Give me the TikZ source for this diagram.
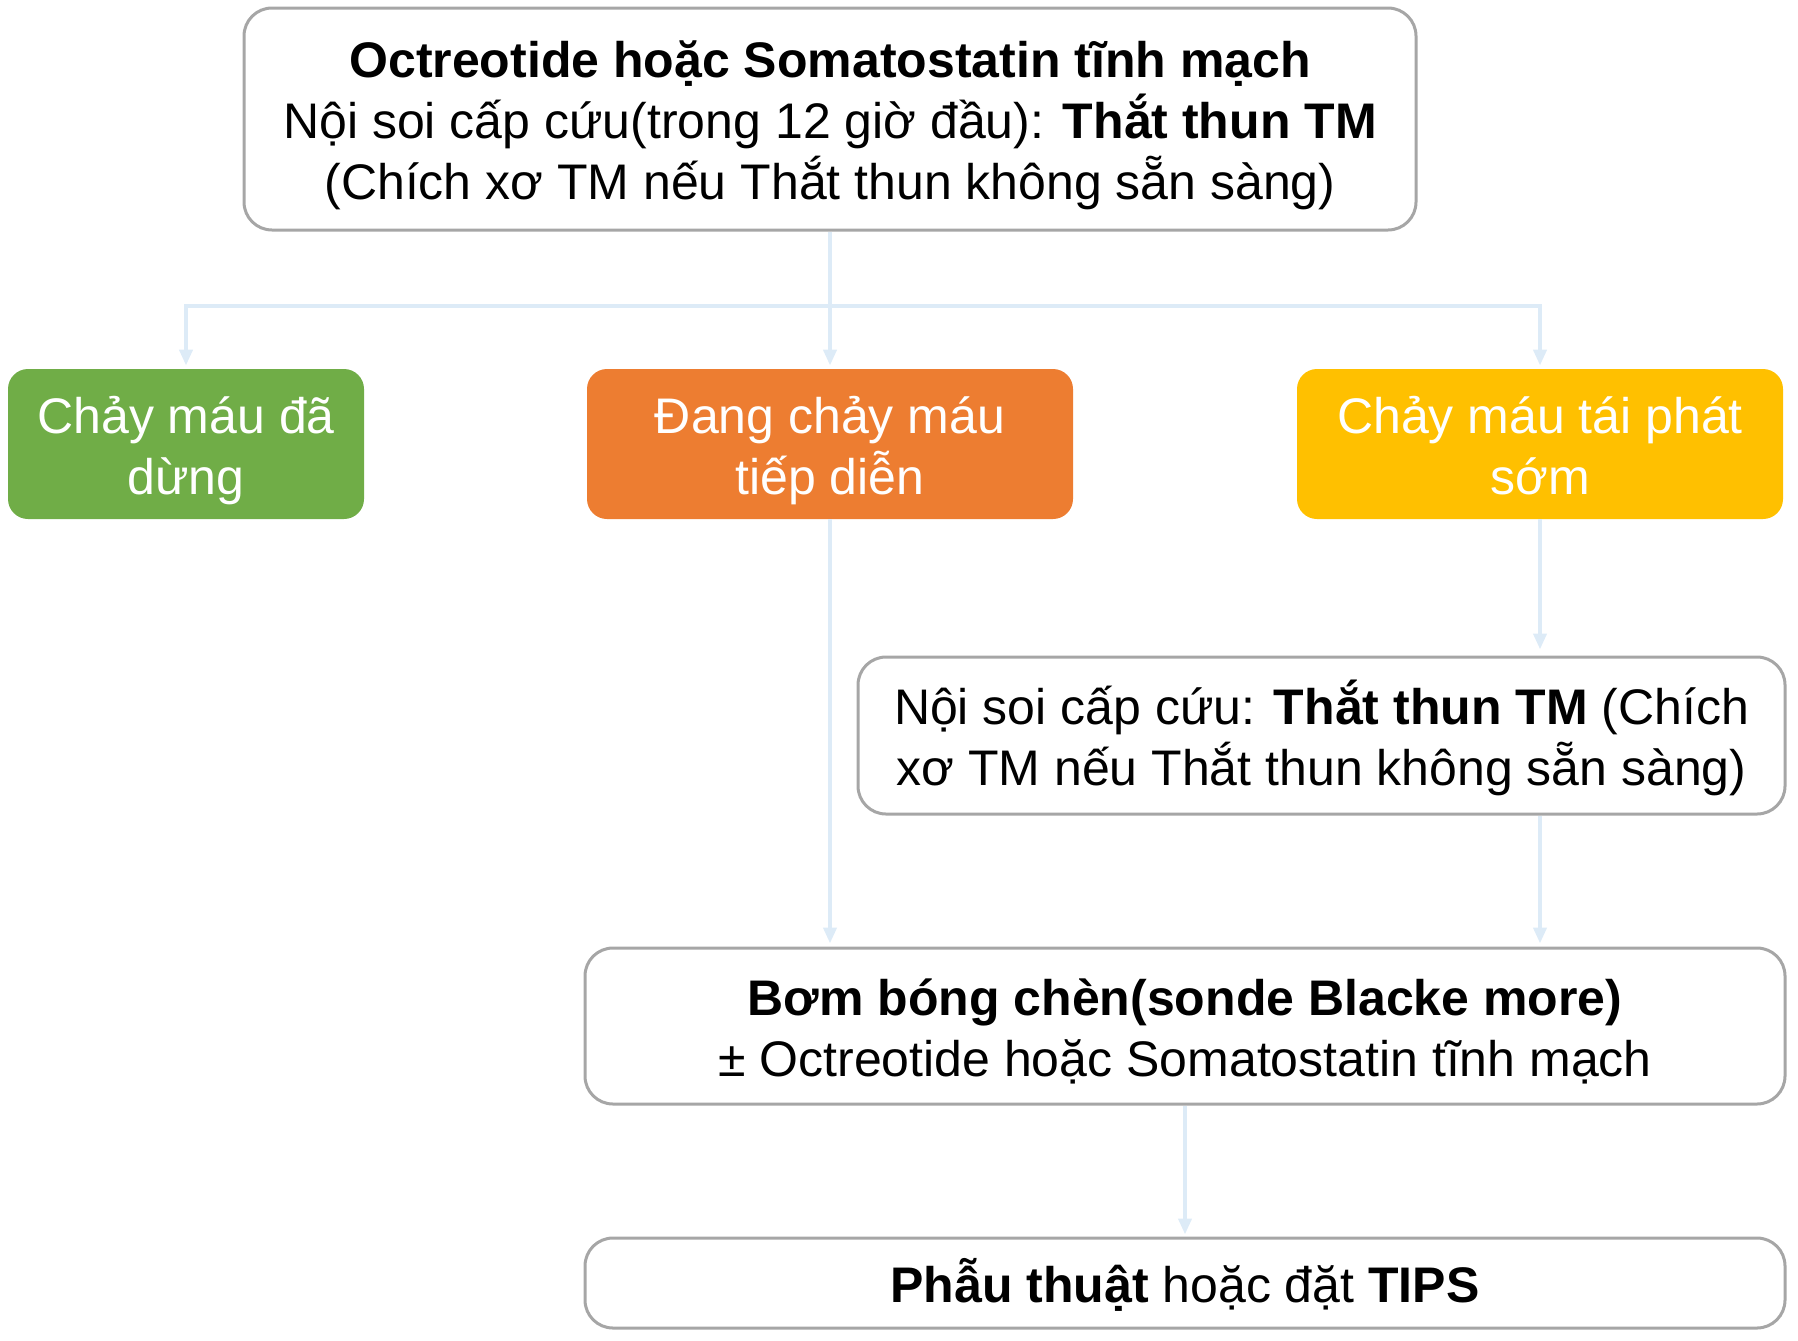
\documentclass[tikz,border=0pt]{standalone}
\usepackage{fontspec}
\setmainfont{Liberation Sans}
\usetikzlibrary{arrows.meta}
\definecolor{boxgray}{HTML}{A6A6A6}
\definecolor{linkblue}{HTML}{DDEBF7}
\definecolor{stopgreen}{HTML}{70AD47}
\definecolor{goorange}{HTML}{ED7D31}
\definecolor{againyellow}{HTML}{FFC000}
\begin{document}
\begin{tikzpicture}[x=0.5pt,y=0.5pt,
    box/.style={draw=boxgray,line width=1.5pt,rounded corners=14pt,fill=white,align=flush center,
    font=\fontsize{25}{30.5}\selectfont,inner sep=0pt,text height=22pt},
    tag/.style={rounded corners=10pt,text=white,align=flush center,font=\fontsize{25}{30.5}\selectfont,
    inner sep=0pt,minimum height=75pt,text height=22pt,text depth=32.7pt},
    size/.style 2 args={minimum width=#1,text width=#1-10pt,minimum height=#2},
    rows1/.style={text depth=2.2pt},
    rows2/.style={text depth=32.7pt},
    rows3/.style={text depth=63.2pt},
    link/.style={draw=linkblue,line width=2pt,-{Triangle[width=6.5pt,length=8pt]}}
    ]
    \useasboundingbox (0,0) rectangle (1798,-1340);
    \def\Y{-306} % height of the split line

    % first step
    \node[box,rows3,size={586pt}{111pt}] (start) at (830,-119)
        {\textbf{Octreotide hoặc Somatostatin tĩnh mạch}\\
         Nội soi cấp cứu(trong 12 giờ đầu): \textbf{Thắt thun TM}\\
         (Chích xơ TM nếu Thắt thun không sẵn sàng)};

    % three outcomes
    \node[tag,fill=stopgreen,size={178pt}{75pt}] (stopped) at (186,-444) {Chảy máu đã\\dừng};
    \node[tag,fill=goorange,size={243pt}{75pt}] (ongoing) at (830,-444) {Đang chảy máu\\tiếp diễn};
    \node[tag,fill=againyellow,size={243pt}{75pt}] (relapse) at (1540,-444) {Chảy máu tái phát\\sớm};

    % later steps
    \node[box,rows2,size={463.5pt}{78.5pt}] (scope2) at (1321.5,-735.5)
        {Nội soi cấp cứu: \textbf{Thắt thun TM} (Chích\\
         xơ TM nếu Thắt thun không sẵn sàng)};
    \node[box,rows2,size={600pt}{78pt}] (balloon) at (1185,-1026)
        {\textbf{Bơm bóng chèn(sonde Blacke more)}\\
         ± Octreotide hoặc Somatostatin tĩnh mạch};
    \node[box,rows1,size={600pt}{45pt}] (surgery) at (1185,-1283)
        {\textbf{Phẫu thuật} hoặc đặt \textbf{TIPS}};

    \coordinate (split) at (830,\Y);
    \draw[link] (start.south) -- ([yshift=1.5pt]ongoing.north);
    \draw[link] (split) -| ([yshift=1.5pt]stopped.north);
    \draw[link] (split) -| ([yshift=1.5pt]relapse.north);
    \draw[link] (relapse.south) -- ([yshift=3pt]relapse.south |- scope2.north);
    \draw[link] (ongoing.south) -- ([yshift=1.5pt]ongoing.south |- balloon.north);
    \draw[link] (relapse.south |- scope2.south) -- ([yshift=1.5pt]relapse.south |- balloon.north);
    \draw[link] (balloon.south) -- ([yshift=1pt]surgery.north);
\end{tikzpicture}
\end{document}
